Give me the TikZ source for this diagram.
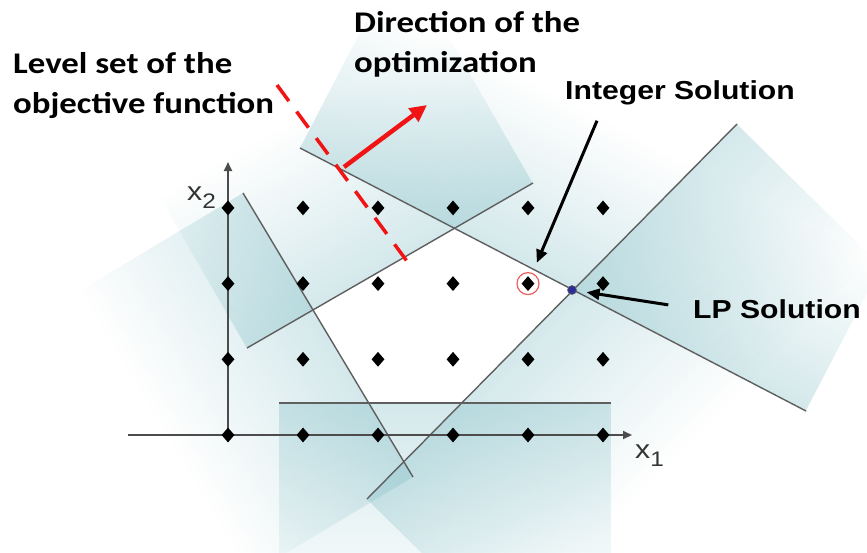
\documentclass[tikz,border=0pt]{standalone}
\usepackage{fontspec}
\newfontfamily\calloutfont[FakeStretch=1.16]{Carlito}
\newfontfamily\arialfont[FakeStretch=1.16]{Liberation Sans}
\usetikzlibrary{arrows.meta, shapes.geometric, fadings}
\definecolor{shadecol}{RGB}{130,190,198}
\definecolor{consgray}{RGB}{95,95,95}
\definecolor{objred}{RGB}{240,20,20}
\definecolor{lpblue}{RGB}{45,45,150}
\definecolor{ringred}{RGB}{235,95,95}

\begin{document}
\begin{tikzpicture}[x=1pt, y=-1pt,
  lat/.style={diamond, fill=black, inner sep=0pt, minimum width=13pt, minimum height=15pt},
  cons/.style={consgray, line width=1.4pt},
  ax/.style={black!70, line width=2pt, -{Triangle[length=9pt,width=8pt]}},
  obj/.style={objred, line width=3.5pt, dash pattern=on 20pt off 13pt},
  dir/.style={objred, line width=4.5pt, -{Triangle[length=17pt,width=16pt]}},
  ptr/.style={black, line width=3pt, -{Triangle[length=13pt,width=11pt]}},
  lbl/.style={font=\calloutfont\bfseries\fontsize{30}{40}\selectfont, align=left,
              inner sep=0pt, anchor=base west},
  albl/.style={font=\arialfont\bfseries\fontsize{26}{30}\selectfont, inner sep=0pt,
               anchor=base west},
  axl/.style={font=\arialfont\fontsize{26}{30}\selectfont, text=black!80, inner sep=0pt,
              anchor=base west},
  shd/.style={fill=shadecol, fill opacity=0.34}
]
\fill[white] (0,0) rectangle (867,552);
\useasboundingbox (0,0) rectangle (867,552);
\clip (0,0) rectangle (867,552);

% infeasible sides of the constraints
\begin{scope}[transform canvas={shift={(243,193)}, rotate=-59.09}]
  \fill[shd, path fading=south] (0,0) rectangle (331,190);
\end{scope}
\begin{scope}[transform canvas={shift={(247,348)}, rotate=29.98}]
  \fill[shd, path fading=north] (0,0) rectangle (330,-175);
\end{scope}
\begin{scope}[transform canvas={shift={(300,148)}, rotate=-27.46}]
  \fill[shd, path fading=north] (0,0) rectangle (570,-165);
\end{scope}
\begin{scope}[transform canvas={shift={(367,499)}, rotate=45.38}]
  \fill[shd, path fading=south] (0,0) rectangle (527,190);
\end{scope}
\begin{scope}[transform canvas={shift={(279,403)}}]
  \fill[shd, path fading=south] (0,0) rectangle (332,220);
\end{scope}

% constraint lines
\coordinate (a1) at (243,193); \coordinate (a2) at (413,477);
\coordinate (b1) at (247,348); \coordinate (b2) at (533,183);
\coordinate (c1) at (300,148); \coordinate (c2) at (806,411);
\coordinate (d1) at (367,499); \coordinate (d2) at (737,124);
\coordinate (e1) at (279,403); \coordinate (e2) at (611,403);
\draw[cons] (a1) -- (a2);
\draw[cons] (b1) -- (b2);
\draw[cons] (c1) -- (c2);
\draw[cons] (d1) -- (d2);
\draw[cons, line width=2.6pt] (e1) -- (e2);

% axes
\coordinate (xa0) at (128,435); \coordinate (xa1) at (632,435);
\coordinate (ya0) at (228,435); \coordinate (ya1) at (228,162);
\draw[ax] (xa0) -- (xa1);
\draw[ax] (ya0) -- (ya1);
\node[axl] (x1l) at (635,458) {x\raisebox{-8pt}{\fontsize{21}{21}\selectfont 1}};
\node[axl] (x2l) at (187,200) {x\raisebox{-8pt}{\fontsize{21}{21}\selectfont 2}};

% objective
\coordinate (lv1) at (277,85); \coordinate (lv2) at (412,268);
\draw[obj] (lv1) -- (lv2);
\coordinate (dirTail) at (344,167); \coordinate (dirTip) at (427,105);
\draw[dir] (dirTail) -- (dirTip);

% integer lattice
\foreach \i in {0,...,5}
  \foreach \j in {0,...,3}
    \node[lat] (p\i\j) at (228+75*\i, 435-75.7*\j) {};

\node[circle, draw=ringred, line width=1.2pt, minimum size=22pt, inner sep=0pt] (intsol) at (p42) {};
\node[circle, fill=lpblue, draw=black!60, line width=0.6pt, minimum size=9pt, inner sep=0pt] (lp) at (572,290) {};

% labels
\node[lbl] (lvl) at (13,113) {Level set of the\\objective function};
\node[lbl] (dirl) at (354,72) {Direction of the\\optimization};
\node[albl] (intl) at (565,99) {Integer Solution};
\node[albl] (lpl) at (693,318) {LP Solution};
\draw[ptr, shorten >=11pt] ([shift={(32,16)}]intl.south west) -- (intsol);
\draw[ptr, shorten <=25pt, shorten >=10pt] (lpl.west) -- (lp);
\end{tikzpicture}
\end{document}
